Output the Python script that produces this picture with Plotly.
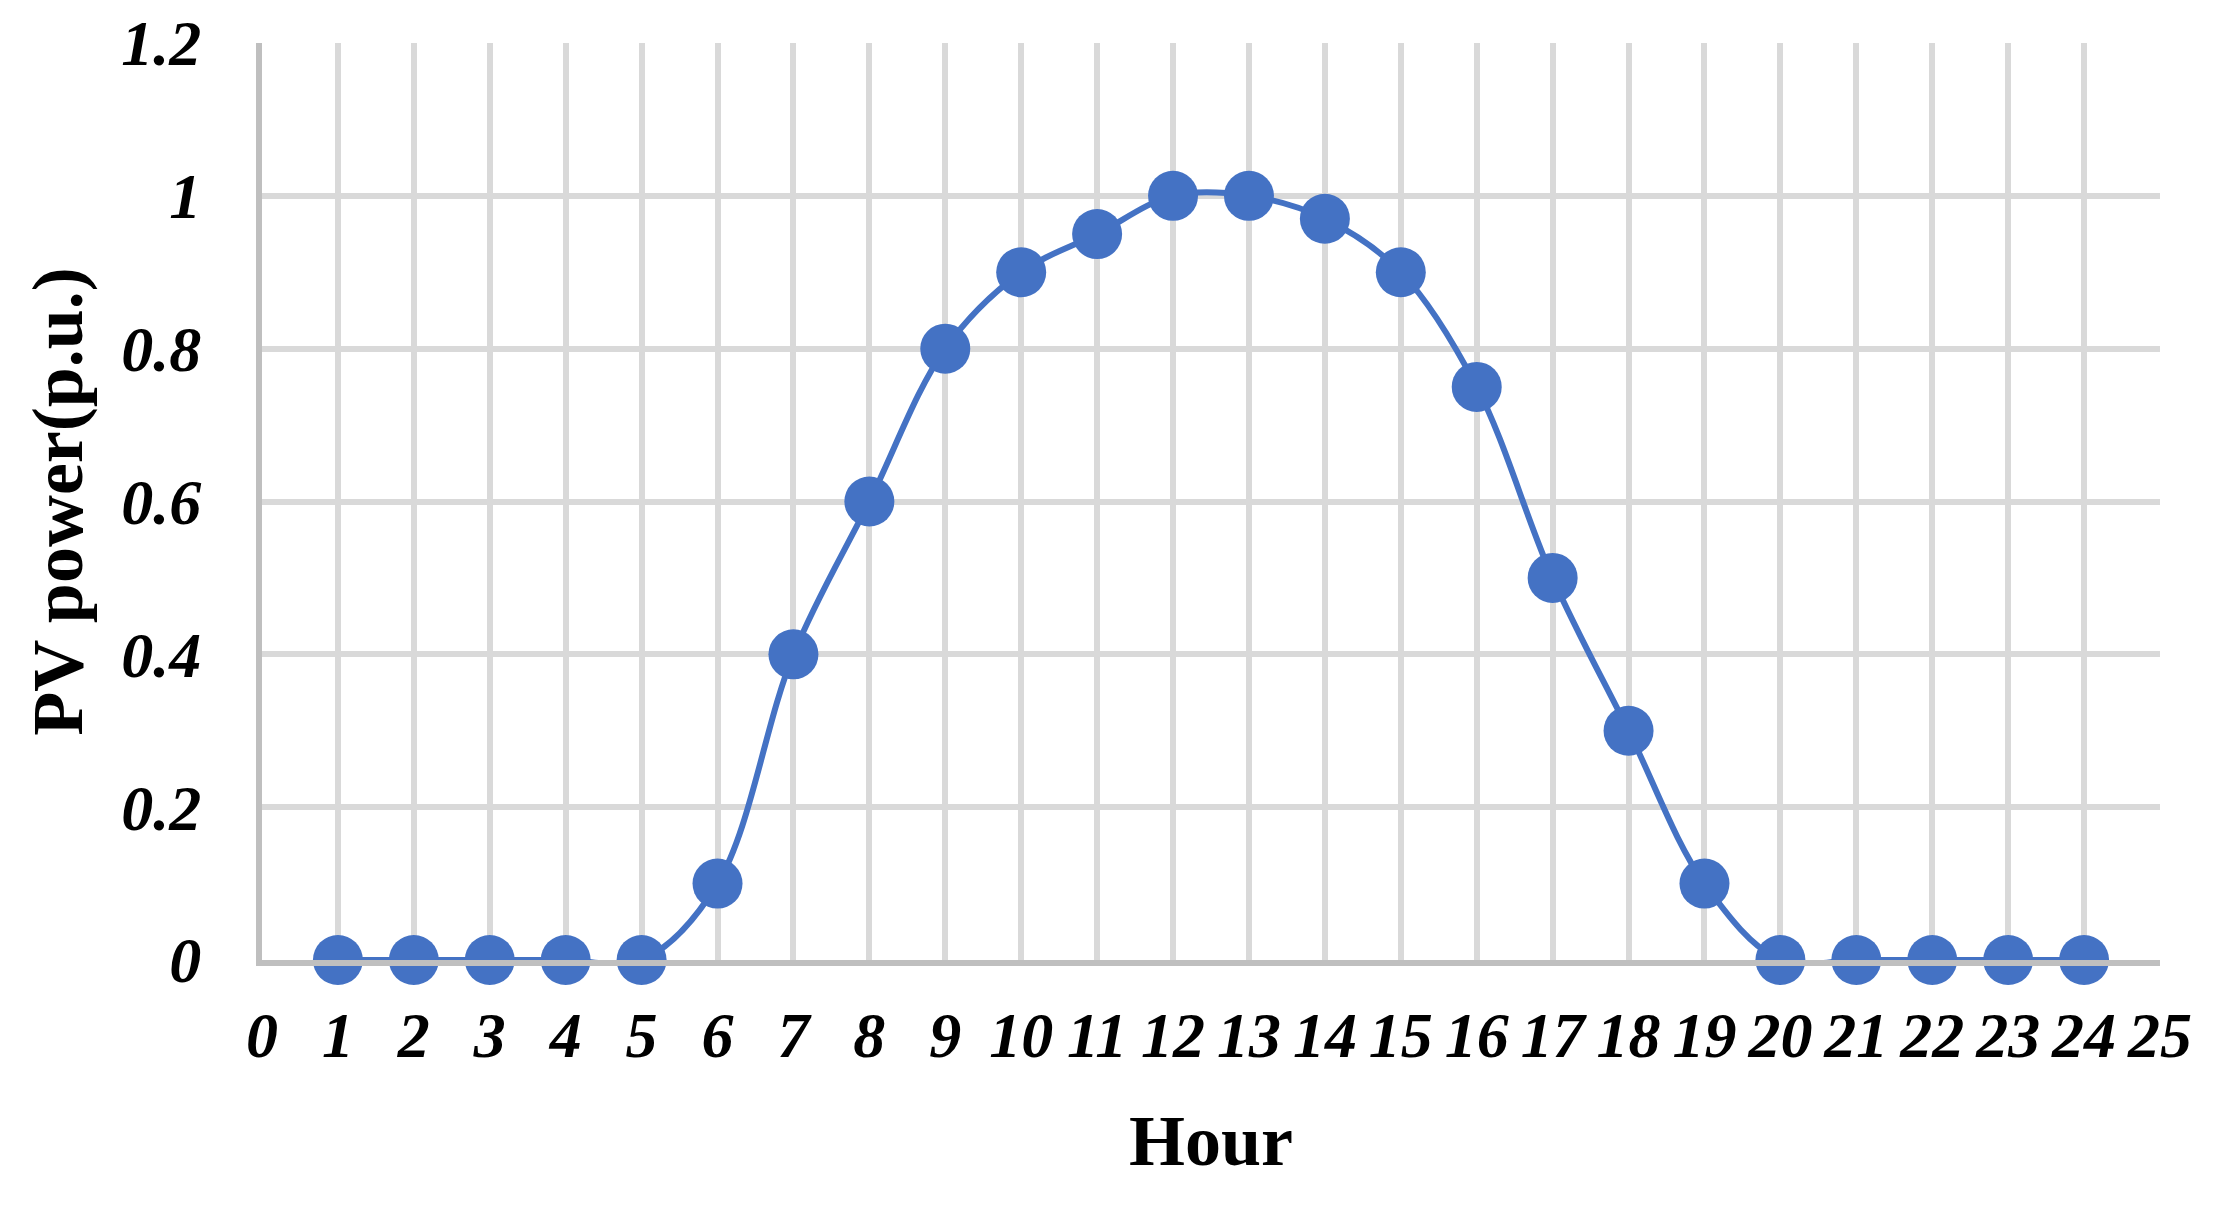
import plotly.graph_objects as go

# hourly PV output, per unit
hours = list(range(1, 25))
pv_power = [0, 0, 0, 0, 0, 0.1, 0.4, 0.6, 0.8, 0.9, 0.95, 1.0,
            1.0, 0.97, 0.9, 0.75, 0.5, 0.3, 0.1, 0, 0, 0, 0, 0]

x_ticks = list(range(0, 26))
y_ticks = [0, 0.2, 0.4, 0.6, 0.8, 1.0, 1.2]
y_tick_text = ["0", "0.2", "0.4", "0.6", "0.8", "1", "1.2"]

BLUE = "#4472C4"
GRID = "#D9D9D9"
AXIS = "#BFBFBF"

tick_font = dict(family="Liberation Serif", size=64, color="black",
                 weight="bold", style="italic")
title_font = dict(family="Liberation Serif", size=72, color="black",
                  weight="bold")

fig = go.Figure()
fig.add_trace(go.Scatter(
    x=hours,
    y=pv_power,
    mode="lines+markers",
    line=dict(color=BLUE, width=6, shape="spline", smoothing=1),
    marker=dict(color=BLUE, size=50),
    cliponaxis=False,
    showlegend=False,
))

# page body adds ~8px margin, so offsets are trimmed by that
fig.update_layout(
    width=2217,
    height=1207,
    paper_bgcolor="white",
    plot_bgcolor="white",
    margin=dict(l=254, r=65, t=35, b=255),
    xaxis=dict(
        range=[0, 25],
        tickvals=x_ticks,
        ticktext=[str(v) for v in x_ticks],
        tickfont=tick_font,
        showgrid=True,
        gridcolor=GRID,
        gridwidth=6,
        showline=True,
        linecolor=AXIS,
        linewidth=6,
        zeroline=False,
        ticks="",
        ticklabelstandoff=14,
        automargin=False,
        title=dict(text="Hour", font=title_font, standoff=47),
    ),
    yaxis=dict(
        range=[0, 1.2],
        tickvals=y_ticks,
        ticktext=y_tick_text,
        tickfont=tick_font,
        showgrid=True,
        gridcolor=GRID,
        gridwidth=6,
        showline=True,
        linecolor=AXIS,
        linewidth=6,
        zeroline=False,
        ticks="",
        ticklabelstandoff=42,
        automargin=False,
        title=dict(text="PV power(p.u.)", font=title_font, standoff=17),
    ),
)

fig.write_html("out.html")
